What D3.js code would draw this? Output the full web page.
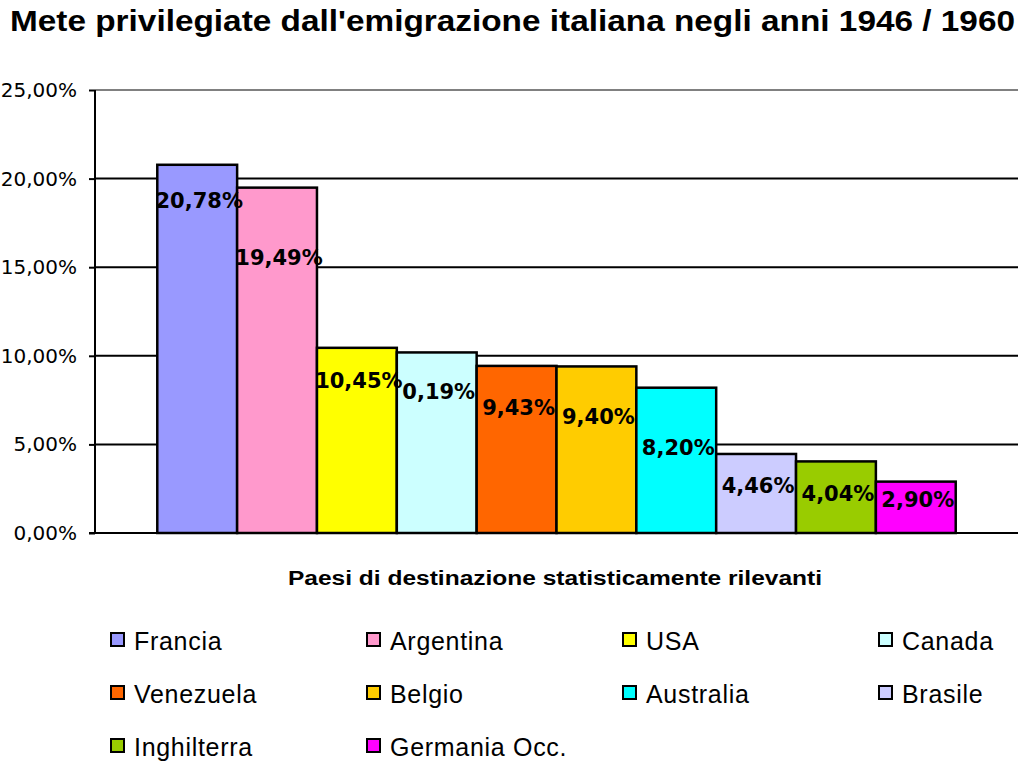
<!DOCTYPE html>
<html>
<head>
<meta charset="utf-8">
<script src="https://cdn.jsdelivr.net/npm/d3@7"></script>
<style>
  body { margin: 0; background: #fff; }
  svg { display: block; }
</style>
</head>
<body>
<div id="chart"></div>
<script>
// data
var countries = ['Francia', 'Argentina', 'USA', 'Canada', 'Venezuela', 'Belgio', 'Australia', 'Brasile', 'Inghilterra', 'Germania Occ.'];
var shares = [20.78, 19.49, 10.45, 10.19, 9.43, 9.40, 8.20, 4.46, 4.04, 2.90];
var valueLabels = ['20,78%', '19,49%', '10,45%', '0,19%', '9,43%', '9,40%', '8,20%', '4,46%', '4,04%', '2,90%'];
var colors = ['#9999ff', '#ff99cc', '#ffff00', '#ccffff', '#ff6600', '#ffcc00', '#00ffff', '#ccccff', '#99cc00', '#ff00ff'];
var yTicks = [0, 5, 10, 15, 20, 25];

var title = "Mete privilegiate dall'emigrazione italiana negli anni 1946 / 1960";
var xTitle = 'Paesi di destinazione statisticamente rilevanti';

var width = 1024, height = 768;
var plot = {left: 95, right: 1018, top: 90, bottom: 533};

var svg = d3.select('#chart').append('svg')
  .attr('width', width)
  .attr('height', height);

var x = d3.scaleBand()
  .domain(countries)
  .range([plot.left, plot.right])
  .paddingInner(0)
  .paddingOuter(0.78);

var y = d3.scaleLinear()
  .domain([0, 25])
  .range([plot.bottom, plot.top]);

var fmt = function(v) {
  return v.toFixed(2).replace('.', ',') + '%';
};

// title - squeezed like the original
svg.append('text')
  .attr('x', 10)
  .attr('y', 31)
  .attr('textLength', 1005)
  .attr('lengthAdjust', 'spacingAndGlyphs')
  .style('font-family', '"Liberation Sans", Arial, sans-serif')
  .style('font-weight', 'bold')
  .style('font-size', '30px')
  .text(title);

// gridlines (top one is the grey plot border)
svg.append('g').selectAll('line')
  .data(yTicks.filter(function(t) { return t > 0; }))
  .enter().append('line')
  .attr('x1', plot.left)
  .attr('x2', plot.right)
  .attr('y1', function(d) { return y(d); })
  .attr('y2', function(d) { return y(d); })
  .attr('stroke', function(d) { return d === 25 ? '#808080' : '#000'; })
  .attr('stroke-width', 2);

// y axis
var yAxis = d3.axisLeft(y)
  .tickValues(yTicks)
  .tickSize(6)
  .tickPadding(12)
  .tickFormat(fmt);

var gy = svg.append('g')
  .attr('transform', 'translate(' + plot.left + ',0)')
  .call(yAxis);
gy.select('.domain').attr('stroke', '#000').attr('stroke-width', 2).attr('d', 'M0,' + plot.top + 'V' + (plot.bottom + 1));
gy.selectAll('.tick line').attr('stroke', '#000').attr('stroke-width', 2);
gy.selectAll('.tick text')
  .attr('fill', '#000')
  .style('font-family', '"DejaVu Sans", Verdana, sans-serif')
  .style('font-size', '20px');

// bars
var rows = countries.map(function(c, i) {
  return {name: c, value: shares[i], label: valueLabels[i], color: colors[i]};
});

svg.append('g').selectAll('rect')
  .data(rows)
  .enter().append('rect')
  .attr('x', function(d) { return x(d.name); })
  .attr('y', function(d) { return y(d.value); })
  .attr('width', x.bandwidth())
  .attr('height', function(d) { return y(0) - y(d.value); })
  .attr('fill', function(d) { return d.color; })
  .attr('stroke', '#000')
  .attr('stroke-width', 2.5);

// x axis baseline
svg.append('line')
  .attr('x1', plot.left - 6)
  .attr('x2', plot.right)
  .attr('y1', y(0))
  .attr('y2', y(0))
  .attr('stroke', '#000')
  .attr('stroke-width', 2);

// value labels sit at odd spots inside the bars in the original, so nudge each one down from the bar top
var labelDrop = [36, 70, 33, 40, 42, 51, 60, 32, 33, 18];

svg.append('g').selectAll('text')
  .data(rows)
  .enter().append('text')
  .attr('x', function(d) { return x(d.name) + x.bandwidth() / 2 + 2; })
  .attr('y', function(d, i) { return y(d.value) + labelDrop[i]; })
  .attr('text-anchor', 'middle')
  .attr('dominant-baseline', 'central')
  .style('font-family', '"DejaVu Sans", Verdana, sans-serif')
  .style('font-weight', 'bold')
  .style('font-size', '21px')
  .text(function(d) { return d.label; });

// x title
svg.append('text')
  .attr('x', 555)
  .attr('y', 585)
  .attr('text-anchor', 'middle')
  .attr('textLength', 534)
  .attr('lengthAdjust', 'spacingAndGlyphs')
  .style('font-family', '"Liberation Sans", Arial, sans-serif')
  .style('font-weight', 'bold')
  .style('font-size', '20px')
  .text(xTitle);

// legend, 4 columns
var legend = svg.append('g').selectAll('g')
  .data(rows)
  .enter().append('g')
  .attr('transform', function(d, i) {
    var col = i % 4, row = Math.floor(i / 4);
    return 'translate(' + (111 + col * 256) + ',' + (640 + row * 53) + ')';
  });

legend.append('rect')
  .attr('x', 0)
  .attr('y', -7)
  .attr('width', 13)
  .attr('height', 13)
  .attr('fill', function(d) { return d.color; })
  .attr('stroke', '#000')
  .attr('stroke-width', 2);

legend.append('text')
  .attr('x', 23)
  .attr('y', 1)
  .attr('dominant-baseline', 'central')
  .style('font-family', '"Liberation Sans", Arial, sans-serif')
  .style('font-size', '25px')
  .style('letter-spacing', '0.7px')
  .text(function(d) { return d.name; });
</script>
</body>
</html>
